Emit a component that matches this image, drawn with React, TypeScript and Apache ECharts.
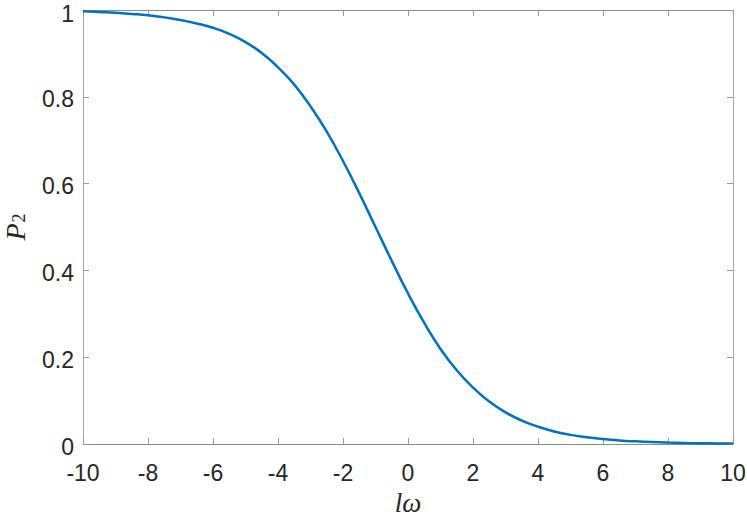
import React, { useEffect, useRef } from "react";
import * as echarts from "echarts";

const xValues = [
  -10, -9.5, -9, -8.5, -8, -7.5, -7, -6.5, -6, -5.5, -5, -4.5, -4, -3.5, -3, -2.5, -2, -1.5, -1, -0.5,
  0, 0.5, 1, 1.5, 2, 2.5, 3, 3.5, 4, 4.5, 5, 5.5, 6, 6.5, 7, 7.5, 8, 8.5, 9, 9.5, 10,
];
const p2Values = [
  0.997, 0.9953, 0.9935, 0.991, 0.988, 0.983, 0.977, 0.969, 0.959, 0.945, 0.926, 0.901, 0.868, 0.828,
  0.778, 0.72, 0.652, 0.578, 0.5, 0.422, 0.347, 0.279, 0.219, 0.17, 0.13, 0.098, 0.073, 0.054, 0.04,
  0.029, 0.021, 0.0155, 0.0114, 0.0083, 0.0061, 0.0044, 0.0032, 0.0024, 0.0017, 0.0013, 0.0009,
];

const X_MIN = -10;
const X_MAX = 10;
const X_STEP = 2;
const Y_MIN = 0;
const Y_MAX = 1;
const Y_STEP = 0.2;

export default function App() {
  const ref = useRef<HTMLDivElement>(null);
  useEffect(() => {
    if (!ref.current) return;
    const chart = echarts.init(ref.current, null, { renderer: "svg" });
    const lineColor = "#8a8a8a";
    const tickFont = {
      fontFamily: "Liberation Sans, Arial, sans-serif",
      fontSize: 23,
      color: "#262626",
    };
    const serif = "Liberation Serif, DejaVu Serif, serif";
    chart.setOption({
      animation: false,
      backgroundColor: "#ffffff",
      grid: {
        left: 83,
        right: 14,
        top: 10,
        bottom: 72,
        containLabel: false,
        outerBoundsMode: "none",
      },
      xAxis: [
        {
          type: "value",
          min: X_MIN,
          max: X_MAX,
          interval: X_STEP,
          axisLine: { show: true, onZero: false, lineStyle: { color: lineColor, width: 1 } },
          axisTick: { show: true, inside: true, length: 6, lineStyle: { color: "#9a9a9a" } },
          splitLine: { show: false },
          axisLabel: { ...tickFont, margin: 17 },
          name: "lω",
          nameLocation: "middle",
          nameGap: 45,
          nameMoveOverlap: false,
          nameTextStyle: {
            fontFamily: serif,
            fontStyle: "italic",
            fontSize: 27,
            color: "#262626",
          },
        },
        {
          type: "value",
          position: "top",
          min: X_MIN,
          max: X_MAX,
          interval: X_STEP,
          axisLine: { show: true, onZero: false, lineStyle: { color: lineColor, width: 1 } },
          axisTick: { show: true, inside: true, length: 6, lineStyle: { color: "#9a9a9a" } },
          splitLine: { show: false },
          axisLabel: { show: false },
        },
      ],
      yAxis: [
        {
          type: "value",
          min: Y_MIN,
          max: Y_MAX,
          interval: Y_STEP,
          axisLine: { show: true, onZero: false, lineStyle: { color: "#a8a8a8", width: 1 } },
          axisTick: { show: true, inside: true, length: 6, lineStyle: { color: "#9a9a9a" } },
          splitLine: { show: false },
          axisLabel: {
            margin: 9,
            formatter: (v: number) => (v === Y_MAX ? "{t|" + v + "}" : "{n|" + v + "}"),
            rich: {
              n: { ...tickFont, lineHeight: 14, padding: [5, 0, 0, 0] },
              t: { ...tickFont, lineHeight: 14, padding: [8, 0, 0, 0] },
            },
          },
          name: "{p|P}{s|2}",
          nameLocation: "middle",
          nameRotate: 90,
          nameGap: 54,
          nameMoveOverlap: false,
          nameTextStyle: {
            rich: {
              p: {
                fontFamily: serif,
                fontStyle: "italic",
                fontSize: 28,
                color: "#262626",
                lineHeight: 28,
              },
              s: {
                fontFamily: serif,
                fontSize: 18,
                color: "#262626",
                verticalAlign: "bottom",
                lineHeight: 18,
                padding: [0, 0, 1, 1],
              },
            },
          },
        },
        {
          type: "value",
          position: "right",
          min: Y_MIN,
          max: Y_MAX,
          interval: Y_STEP,
          axisLine: { show: true, onZero: false, lineStyle: { color: "#a8a8a8", width: 1 } },
          axisTick: { show: true, inside: true, length: 6, lineStyle: { color: "#9a9a9a" } },
          splitLine: { show: false },
          axisLabel: { show: false },
        },
      ],
      series: [
        {
          type: "line",
          xAxisIndex: 0,
          yAxisIndex: 0,
          data: xValues.map((x, i) => [x, p2Values[i]]),
          smooth: true,
          showSymbol: false,
          symbol: "none",
          lineStyle: { color: "#0072BD", width: 2.5 },
        },
      ],
    });
    return () => chart.dispose();
  }, []);
  return (
    <div
      ref={ref}
      style={{ position: "absolute", left: 0, top: 0, width: 747, height: 516, overflow: "hidden" }}
    />
  );
}
